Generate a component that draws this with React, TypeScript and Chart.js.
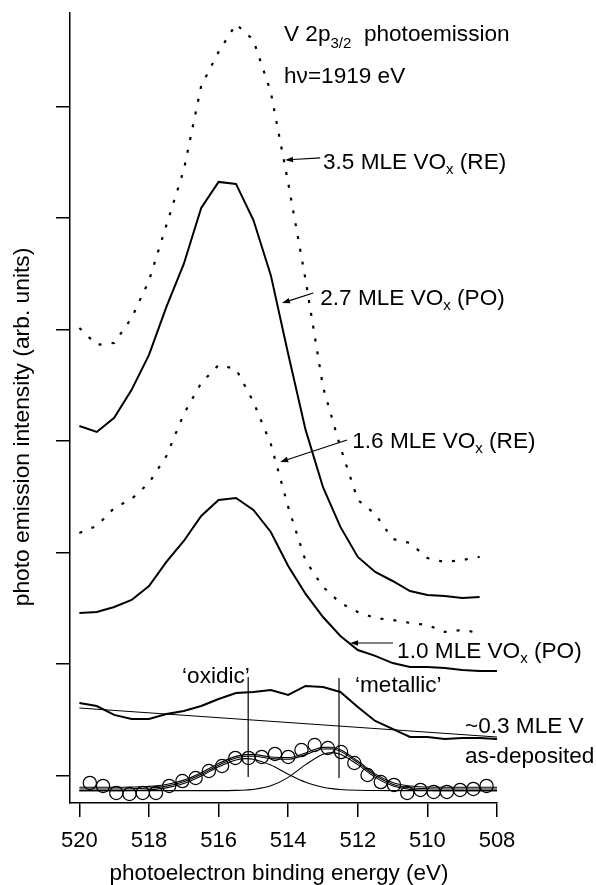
import React, { useEffect, useRef } from 'react';
import { Chart, registerables } from 'chart.js';

Chart.register(...registerables);

// ---------- data ----------
const energyShort = [520, 519.5, 519, 518.5, 518, 517.5, 517, 516.5, 516, 515.5, 515, 514.5, 514, 513.5, 513, 512.5, 512, 511.5, 511, 510.5, 510, 509.5, 509, 508.5];
const energyLong = [520, 519.5, 519, 518.5, 518, 517.5, 517, 516.5, 516, 515.5, 515, 514.5, 514, 513.5, 513, 512.5, 512, 511.5, 511, 510.5, 510, 509.5, 509, 508.5, 508];

const mle35RE = [5.015, 4.864, 4.881, 5.105, 5.44, 5.937, 6.432, 7.186, 7.491, 7.74, 7.598, 7.13, 6.316, 5.446, 4.487, 3.946, 3.473, 3.347, 3.123, 3.087, 2.952, 2.916, 2.934, 2.962];
const mle27PO = [4.136, 4.083, 4.209, 4.46, 4.774, 5.204, 5.589, 6.092, 6.325, 6.307, 5.983, 5.489, 4.782, 4.101, 3.587, 3.231, 2.962, 2.827, 2.746, 2.656, 2.621, 2.612, 2.594, 2.603];
const mle16RE = [3.177, 3.24, 3.401, 3.482, 3.626, 3.867, 4.244, 4.522, 4.683, 4.647, 4.352, 3.975, 3.41, 2.926, 2.693, 2.549, 2.468, 2.414, 2.396, 2.37, 2.352, 2.289, 2.307, 2.28];
const mle10PO = [2.459, 2.468, 2.513, 2.576, 2.701, 2.917, 3.105, 3.329, 3.473, 3.491, 3.383, 3.186, 2.881, 2.63, 2.423, 2.253, 2.127, 2.074, 2.01, 1.974, 1.974, 1.966, 1.948, 1.939, 1.939];
const mle03AsDep = [1.652, 1.625, 1.545, 1.509, 1.509, 1.553, 1.58, 1.625, 1.688, 1.742, 1.751, 1.769, 1.724, 1.805, 1.796, 1.751, 1.616, 1.491, 1.419, 1.347, 1.347, 1.33, 1.338, 1.338, 1.33];

const bgEnergy = [520, 508];
const bgValues = [1.607, 1.347];

const fitEnergy = [520, 519.5, 519, 518.5, 518, 517.5, 517, 516.5, 516, 515.5, 515.2, 515, 514.5, 514, 513.5, 513, 512.75, 512.5, 512, 511.5, 511, 510.5, 510, 509.5, 509, 508.5, 508];
const oxidicComp = [0.866, 0.866, 0.866, 0.868, 0.874, 0.891, 0.93, 0.997, 1.079, 1.141, 1.153, 1.148, 1.095, 1.013, 0.941, 0.897, 0.884, 0.876, 0.869, 0.867, 0.866, 0.866, 0.866, 0.866, 0.866, 0.866, 0.866];
const metallicComp = [0.866, 0.866, 0.866, 0.866, 0.866, 0.866, 0.866, 0.866, 0.866, 0.868, 0.872, 0.877, 0.909, 0.985, 1.099, 1.193, 1.207, 1.193, 1.099, 0.985, 0.909, 0.877, 0.868, 0.866, 0.866, 0.866, 0.866];
const fitEnvelopeA = [0.881, 0.881, 0.881, 0.883, 0.889, 0.906, 0.945, 1.012, 1.094, 1.158, 1.174, 1.174, 1.153, 1.147, 1.189, 1.239, 1.24, 1.218, 1.117, 1.001, 0.924, 0.892, 0.883, 0.881, 0.881, 0.881, 0.881];
const fitEnvelopeB = [0.896, 0.896, 0.896, 0.898, 0.904, 0.921, 0.96, 1.027, 1.109, 1.173, 1.189, 1.189, 1.168, 1.162, 1.204, 1.254, 1.255, 1.233, 1.132, 1.016, 0.939, 0.907, 0.898, 0.896, 0.896, 0.896, 0.896];

const circleEnergy = [519.7, 519.32, 518.94, 518.56, 518.18, 517.8, 517.42, 517.04, 516.66, 516.28, 515.9, 515.52, 515.14, 514.76, 514.38, 514.0, 513.62, 513.24, 512.86, 512.48, 512.1, 511.72, 511.34, 510.96, 510.58, 510.2, 509.82, 509.44, 509.06, 508.68, 508.3];
const circleValues = [0.935, 0.908, 0.845, 0.836, 0.845, 0.845, 0.908, 0.952, 0.979, 1.042, 1.087, 1.159, 1.159, 1.168, 1.195, 1.168, 1.23, 1.275, 1.248, 1.212, 1.114, 1.006, 0.943, 0.917, 0.845, 0.872, 0.854, 0.854, 0.872, 0.881, 0.908];

const oxidicMarkerEnergy = 515.15;
const oxidicMarkerRange = [1.885, 0.988];
const metallicMarkerEnergy = 512.54;
const metallicMarkerRange = [1.876, 0.979];

const xTicks = [520, 518, 516, 514, 512, 510, 508];
const yTicks = [1, 2, 3, 4, 5, 6, 7];

const xTitle = 'photoelectron binding energy (eV)';
const yTitle = 'photo emission intensity (arb. units)';

type Seg = { t: string; sub?: boolean };
const annotationTexts: { x: number; y: number; segs: Seg[] }[] = [
  { x: 514.12, y: 7.589, segs: [{ t: 'V 2p' }, { t: '3/2', sub: true }, { t: '  photoemission' }] },
  { x: 514.12, y: 7.213, segs: [{ t: 'h\u03bd=1919 eV' }] },
  { x: 513.0, y: 6.441, segs: [{ t: '3.5 MLE VO' }, { t: 'x', sub: true }, { t: ' (RE)' }] },
  { x: 513.08, y: 5.222, segs: [{ t: '2.7 MLE VO' }, { t: 'x', sub: true }, { t: ' (PO)' }] },
  { x: 512.16, y: 3.939, segs: [{ t: '1.6 MLE VO' }, { t: 'x', sub: true }, { t: ' (RE)' }] },
  { x: 510.87, y: 2.056, segs: [{ t: '1.0 MLE VO' }, { t: 'x', sub: true }, { t: ' (PO)' }] },
  { x: 517.05, y: 1.831, segs: [{ t: '\u2018oxidic\u2019' }] },
  { x: 512.08, y: 1.751, segs: [{ t: '\u2018metallic\u2019' }] },
  { x: 508.92, y: 1.383, segs: [{ t: '~0.3 MLE V' }] },
  { x: 508.92, y: 1.114, segs: [{ t: 'as-deposited' }] },
];

const annotationArrows: { from: [number, number]; to: [number, number] }[] = [
  { from: [513.08, 6.54], to: [514.09, 6.522] },
  { from: [513.28, 5.329], to: [514.18, 5.239] },
  { from: [512.31, 4.011], to: [514.23, 3.813] },
  { from: [510.99, 2.19], to: [512.22, 2.19] },
];

// ---------- helpers ----------
const FONT = '"Liberation Sans", Arial, Helvetica, sans-serif';
const zip = (xs: number[], ys: number[]) => xs.map((x, i) => ({ x, y: ys[i] }));

const lineDs = (label: string, data: { x: number; y: number }[], extra: any = {}) => ({
  label,
  data,
  borderColor: '#000',
  backgroundColor: 'transparent',
  borderWidth: 2,
  pointRadius: 0,
  tension: 0,
  fill: false,
  ...extra,
});

const annotationPlugin = {
  id: 'annotations',
  afterDraw(chart: any) {
    const { ctx, scales } = chart;
    const xs = scales.x;
    const ys = scales.y;
    ctx.save();
    ctx.fillStyle = '#000';
    ctx.strokeStyle = '#000';
    ctx.textBaseline = 'alphabetic';
    ctx.textAlign = 'left';
    for (const a of annotationTexts) {
      let px = xs.getPixelForValue(a.x);
      const py = ys.getPixelForValue(a.y);
      for (const s of a.segs) {
        if (s.sub) {
          ctx.font = `15px ${FONT}`;
          const off = s.t === 'x' ? 5 : 7;
          ctx.fillText(s.t, px, py + off);
          px += ctx.measureText(s.t).width;
        } else {
          ctx.font = `22.6px ${FONT}`;
          ctx.fillText(s.t, px, py);
          px += ctx.measureText(s.t).width;
        }
      }
    }
    // arrows
    ctx.lineWidth = 1.2;
    for (const ar of annotationArrows) {
      const x1 = xs.getPixelForValue(ar.from[0]);
      const y1 = ys.getPixelForValue(ar.from[1]);
      const x2 = xs.getPixelForValue(ar.to[0]);
      const y2 = ys.getPixelForValue(ar.to[1]);
      const ang = Math.atan2(y2 - y1, x2 - x1);
      const hl = 8;
      const hw = 2.8;
      const bx = x2 - hl * Math.cos(ang);
      const by = y2 - hl * Math.sin(ang);
      ctx.beginPath();
      ctx.moveTo(x1, y1);
      ctx.lineTo(bx, by);
      ctx.stroke();
      ctx.beginPath();
      ctx.moveTo(x2, y2);
      ctx.lineTo(bx - hw * Math.sin(ang), by + hw * Math.cos(ang));
      ctx.lineTo(bx + hw * Math.sin(ang), by - hw * Math.cos(ang));
      ctx.closePath();
      ctx.fill();
    }
    // axis titles
    ctx.font = `22.5px ${FONT}`;
    ctx.textAlign = 'center';
    ctx.textBaseline = 'middle';
    ctx.fillText(xTitle, 279, 874);
    ctx.font = `22.8px ${FONT}`;
    ctx.translate(22.5, 427);
    ctx.rotate(-Math.PI / 2);
    ctx.fillText(yTitle, 0, 0);
    ctx.restore();
  },
};

export default function App() {
  const ref = useRef<HTMLCanvasElement | null>(null);
  useEffect(() => {
    if (!ref.current) return;
    const dotted = { borderDash: [3, 10], borderWidth: 2.2, borderCapStyle: 'butt' };
    const chart = new Chart(ref.current, {
      type: 'line',
      data: {
        datasets: [
          lineDs('3.5 MLE VOx (RE)', zip(energyShort, mle35RE), dotted),
          lineDs('2.7 MLE VOx (PO)', zip(energyShort, mle27PO)),
          lineDs('1.6 MLE VOx (RE)', zip(energyShort, mle16RE), dotted),
          lineDs('1.0 MLE VOx (PO)', zip(energyLong, mle10PO)),
          lineDs('~0.3 MLE V as-deposited', zip(energyLong, mle03AsDep)),
          lineDs('background', zip(bgEnergy, bgValues), { borderWidth: 1.1 }),
          lineDs('oxidic component', zip(fitEnergy, oxidicComp), { borderWidth: 1.1, cubicInterpolationMode: 'monotone' }),
          lineDs('metallic component', zip(fitEnergy, metallicComp), { borderWidth: 1.1, cubicInterpolationMode: 'monotone' }),
          lineDs('fit', zip(fitEnergy, fitEnvelopeA), { borderWidth: 1.1, cubicInterpolationMode: 'monotone' }),
          lineDs('fit2', zip(fitEnergy, fitEnvelopeB), { borderWidth: 1.1, cubicInterpolationMode: 'monotone' }),
          lineDs('oxidic marker', zip([oxidicMarkerEnergy, oxidicMarkerEnergy], oxidicMarkerRange), { borderWidth: 1.2 }),
          lineDs('metallic marker', zip([metallicMarkerEnergy, metallicMarkerEnergy], metallicMarkerRange), { borderWidth: 1.2 }),
          {
            label: 'data',
            data: zip(circleEnergy, circleValues),
            showLine: false,
            pointStyle: 'circle',
            pointRadius: 6.6,
            pointBorderWidth: 1.2,
            pointBorderColor: '#000',
            pointBackgroundColor: 'transparent',
            borderColor: '#000',
            backgroundColor: 'transparent',
          },
        ],
      },
      options: {
        responsive: false,
        animation: false,
        events: [],
        layout: { padding: { top: 13, right: 99, left: 0, bottom: 0 } },
        plugins: { legend: { display: false }, tooltip: { enabled: false } },
        scales: {
          x: {
            type: 'linear',
            reverse: true,
            min: 508,
            max: 520.27,
            afterBuildTicks: (s: any) => {
              s.ticks = xTicks.map((v) => ({ value: v }));
            },
            afterFit: (s: any) => {
              s.height = 82;
            },
            border: { display: true, color: '#000', width: 1.5 },
            grid: { display: true, drawOnChartArea: false, drawTicks: true, tickLength: 14, color: '#000', lineWidth: 1.5 },
            ticks: {
              color: '#000',
              font: { family: FONT, size: 22 },
              padding: 11,
              maxRotation: 0,
              autoSkip: false,
              callback: (v: any) => String(v),
            },
          },
          y: {
            type: 'linear',
            min: 0.755,
            max: 7.84,
            afterBuildTicks: (s: any) => {
              s.ticks = yTicks.map((v) => ({ value: v }));
            },
            afterFit: (s: any) => {
              s.width = 70;
            },
            border: { display: true, color: '#000', width: 1.5 },
            grid: { display: true, drawOnChartArea: false, drawTicks: true, tickLength: 14, color: '#000', lineWidth: 1.5 },
            ticks: { display: false },
          },
        },
      } as any,
      plugins: [annotationPlugin],
    } as any);
    return () => chart.destroy();
  }, []);
  return (
    <div style={{ position: 'absolute', left: 0, top: 0, width: 596, height: 885, background: '#fff' }}>
      <canvas ref={ref} width={596} height={885} style={{ display: 'block', width: 596, height: 885 }} />
    </div>
  );
}
